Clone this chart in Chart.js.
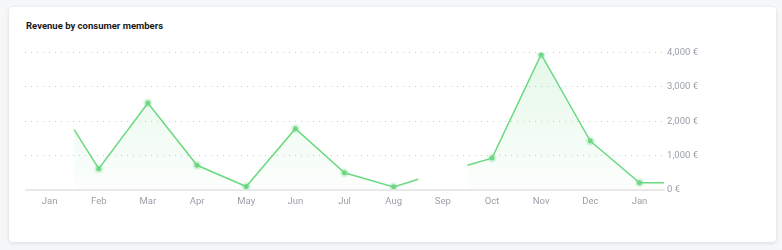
<!DOCTYPE html>
<html>
<head>
<meta charset="utf-8">
<script src="https://cdn.jsdelivr.net/npm/chart.js@4"></script>
<style>
  html, body { margin: 0; padding: 0; background: #f5f7f8; font-family: Roboto, sans-serif; }
  .card {
    position: absolute; left: 9px; top: 7px; width: 767px; height: 235px;
    background: #fff; border-radius: 4px;
    box-shadow: 0 1px 4px rgba(0, 0, 0, 0.12);
  }
  .card h3 {
    position: absolute; left: 17px; top: 13px; margin: 0;
    font-size: 9.5px; font-weight: bold; color: #1a1a1a;
  }
  .chart-box { position: absolute; left: 16px; top: 37px; width: 676px; height: 169px; }
</style>
</head>
<body>
<div class="card">
  <h3>Revenue by consumer members</h3>
  <div class="chart-box"><canvas id="revenueChart"></canvas></div>
</div>
<script>
// month labels on the x axis (0 = Jan ... 12 = next Jan)
const monthLabels = ['Jan', 'Feb', 'Mar', 'Apr', 'May', 'Jun', 'Jul', 'Aug', 'Sep', 'Oct', 'Nov', 'Dec', 'Jan'];

// positions along the axis (in months) and revenue in euros, null = no data
const xPositions = [0.5, 1, 2, 3, 4, 5, 6, 7, 7.5, 8, 8.5, 9, 10, 11, 12, 12.5];
const revenue = [1750, 610, 2530, 710, 90, 1780, 490, 80, 300, null, 710, 920, 3950, 1420, 200, 200];

// y axis ticks
const yTicks = [0, 1000, 2000, 3000, 4000];

const green = '#6cd983';

const points = xPositions.map((x, i) => ({ x: x, y: revenue[i] }));
// only whole months get a marker
const radii = xPositions.map(x => Number.isInteger(x) ? 2.5 : 0);

const ctx = document.getElementById('revenueChart').getContext('2d');
const revenueChart = new Chart(ctx, {
  type: 'line',
  data: {
    datasets: [{
      label: 'Revenue',
      data: points,
      borderColor: green,
      borderWidth: 1.5,
      pointRadius: radii,
      pointHoverRadius: radii,
      pointBackgroundColor: green,
      pointBorderColor: 'rgba(108, 217, 131, 0.25)',
      pointBorderWidth: 4,
      tension: 0,
      spanGaps: false,
      fill: 'origin',
      backgroundColor: (context) => {
        const area = context.chart.chartArea;
        if (!area) return 'rgba(108, 217, 131, 0.1)';
        const g = context.chart.ctx.createLinearGradient(0, area.top, 0, area.bottom);
        g.addColorStop(0, 'rgba(108, 217, 131, 0.18)');
        g.addColorStop(1, 'rgba(108, 217, 131, 0.02)');
        return g;
      }
    }]
  },
  options: {
    responsive: true,
    maintainAspectRatio: false,
    animation: false,
    layout: { padding: { left: 0, right: 0, top: 2, bottom: 0 } },
    plugins: {
      legend: { display: false },
      tooltip: { enabled: false }
    },
    scales: {
      x: {
        type: 'linear',
        min: -0.5,
        max: 12.5,
        afterBuildTicks: axis => {
          axis.ticks = monthLabels.map((m, i) => ({ value: i }));
        },
        ticks: {
          callback: v => monthLabels[v],
          color: '#9a9fa8',
          font: { family: 'Roboto', size: 9.5 },
          padding: 6,
          maxRotation: 0,
          autoSkip: false
        },
        grid: { display: false, drawTicks: false },
        border: { display: true, color: '#e9e9e9', width: 2 }
      },
      y: {
        position: 'right',
        min: 0,
        max: 4000,
        afterBuildTicks: axis => {
          axis.ticks = yTicks.map(v => ({ value: v }));
        },
        ticks: {
          callback: v => v.toLocaleString('en-US') + ' €',
          color: '#9a9fa8',
          font: { family: 'Roboto', size: 9.5 },
          padding: 3
        },
        grid: {
          color: ctx => ctx.tick && ctx.tick.value === 0 ? 'rgba(0,0,0,0)' : '#c9c9c9',
          drawTicks: false
        },
        border: { display: false, dash: [1, 5] }
      }
    }
  }
});
</script>
</body>
</html>
